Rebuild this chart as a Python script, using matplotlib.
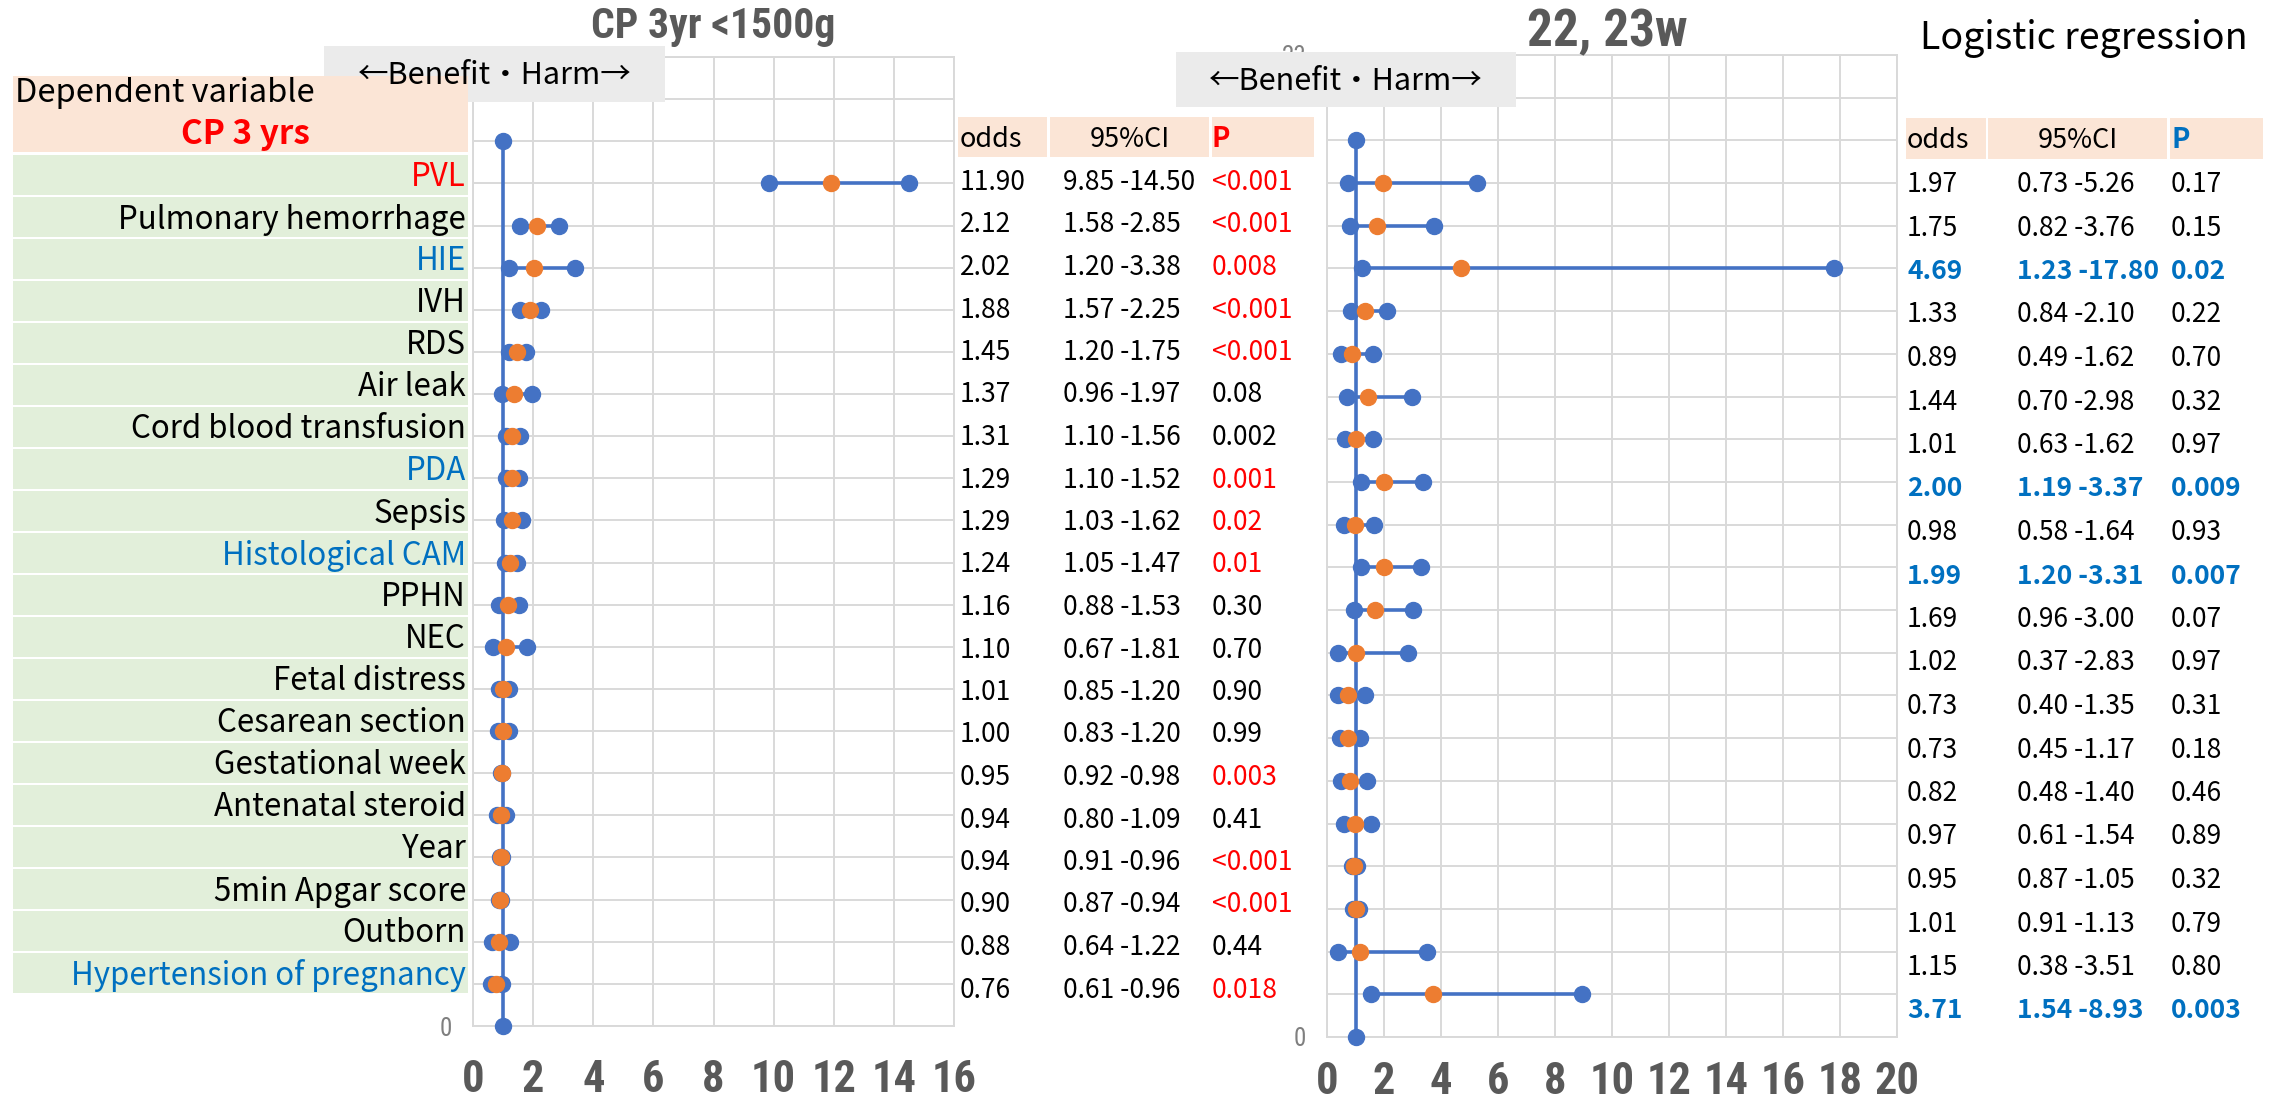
import numpy as np
import matplotlib
matplotlib.use("Agg")
import matplotlib.pyplot as plt
from matplotlib import font_manager as fm
from matplotlib.patches import Rectangle

# ---------------- data ----------------
variables = ["PVL", "Pulmonary hemorrhage", "HIE", "IVH", "RDS", "Air leak",
             "Cord blood transfusion", "PDA", "Sepsis", "Histological CAM", "PPHN",
             "NEC", "Fetal distress", "Cesarean section", "Gestational week",
             "Antenatal steroid", "Year", "5min Apgar score", "Outborn",
             "Hypertension of pregnancy"]
variable_colors = ["#ff0000", "black", "#0070c0", "black", "black", "black", "black",
                   "#0070c0", "black", "#0070c0", "black", "black", "black", "black",
                   "black", "black", "black", "black", "black", "#0070c0"]

# CP at 3 years, <1500 g
odds_vlbw = [11.90, 2.12, 2.02, 1.88, 1.45, 1.37, 1.31, 1.29, 1.29, 1.24,
             1.16, 1.10, 1.01, 1.00, 0.95, 0.94, 0.94, 0.90, 0.88, 0.76]
lo_vlbw = [9.85, 1.58, 1.20, 1.57, 1.20, 0.96, 1.10, 1.10, 1.03, 1.05,
           0.88, 0.67, 0.85, 0.83, 0.92, 0.80, 0.91, 0.87, 0.64, 0.61]
hi_vlbw = [14.50, 2.85, 3.38, 2.25, 1.75, 1.97, 1.56, 1.52, 1.62, 1.47,
           1.53, 1.81, 1.20, 1.20, 0.98, 1.09, 0.96, 0.94, 1.22, 0.96]
p_vlbw = ["<0.001", "<0.001", "0.008", "<0.001", "<0.001", "0.08", "0.002", "0.001",
          "0.02", "0.01", "0.30", "0.70", "0.90", "0.99", "0.003", "0.41", "<0.001",
          "<0.001", "0.44", "0.018"]
p_vlbw_highlight = [1, 1, 1, 1, 1, 0, 0, 1, 1, 1, 0, 0, 0, 0, 1, 0, 1, 1, 0, 1]

# 22-23 weeks
odds_2223 = [1.97, 1.75, 4.69, 1.33, 0.89, 1.44, 1.01, 2.00, 0.98, 1.99,
             1.69, 1.02, 0.73, 0.73, 0.82, 0.97, 0.95, 1.01, 1.15, 3.71]
lo_2223 = [0.73, 0.82, 1.23, 0.84, 0.49, 0.70, 0.63, 1.19, 0.58, 1.20,
           0.96, 0.37, 0.40, 0.45, 0.48, 0.61, 0.87, 0.91, 0.38, 1.54]
hi_2223 = [5.26, 3.76, 17.80, 2.10, 1.62, 2.98, 1.62, 3.37, 1.64, 3.31,
           3.00, 2.83, 1.35, 1.17, 1.40, 1.54, 1.05, 1.13, 3.51, 8.93]
p_2223 = ["0.17", "0.15", "0.02", "0.22", "0.70", "0.32", "0.97", "0.009", "0.93",
          "0.007", "0.07", "0.97", "0.31", "0.18", "0.46", "0.89", "0.32", "0.79",
          "0.80", "0.003"]
p_2223_highlight = [0, 0, 1, 0, 0, 0, 0, 1, 0, 1, 0, 0, 0, 0, 0, 0, 0, 0, 0, 1]

ref_odds = 1.0
y_top = 23
x_ticks_vlbw = list(range(0, 17, 2))
x_ticks_2223 = list(range(0, 21, 2))

# ---------------- style ----------------
W, H = 2277, 1104
BLUE = "#4472c4"
ORANGE = "#ed7d31"
GRID = "#d9d9d9"
GRAY = "#595959"
RED = "#ff0000"
TXT_BLUE = "#0070c0"
PEACH = "#fbe5d6"
GREEN = "#e2efda"
BOXGRAY = "#ebebeb"

_installed = {f.name for f in fm.fontManager.ttflist}
_narrow_choices = [("Liberation Sans Narrow", 1.0), ("Roboto Condensed", 1.0),
                   ("Roboto", 0.97), ("DejaVu Sans", 0.8)]
NARROW, NS = next((n, s) for n, s in _narrow_choices if n in _installed)
JP = ["Noto Sans CJK JP", "DejaVu Sans"]
plt.rcParams["font.family"] = JP

fig = plt.figure(figsize=(W / 100, H / 100), dpi=100)


def px_axes(x0, x1, ytop, ybot, **kw):
    return fig.add_axes([x0 / W, (H - ybot) / H, (x1 - x0) / W, (ybot - ytop) / H], **kw)


def forest(ax, odds, lo, hi, xticks, top_label, xpad):
    n = len(odds)
    rows = np.arange(n, 0, -1)
    ms = 11.5
    ax.plot([ref_odds, ref_odds], [0, n + 1], color=BLUE, lw=2.6, marker="o",
            ms=ms, mec=BLUE, zorder=3, clip_on=False)
    for y, a, b in zip(rows, lo, hi):
        ax.plot([a, b], [y, y], color=BLUE, lw=2.6, marker="o", ms=ms, mec=BLUE,
                zorder=4, clip_on=False)
    ax.plot(odds, rows, "o", color=ORANGE, mec=ORANGE, ms=ms, zorder=5, clip_on=False)
    ax.set_xlim(xticks[0], xticks[-1])
    ax.set_ylim(0, y_top)
    ax.set_xticks(xticks)
    ax.set_yticks([0, y_top])
    ax.set_yticklabels(["0", top_label])
    ax.set_yticks(np.arange(0, y_top + 1), minor=True)
    ax.grid(True, which="major", axis="x", color=GRID, lw=1.4)
    ax.grid(True, which="both", axis="y", color=GRID, lw=1.4)
    ax.set_axisbelow(True)
    for s in ax.spines.values():
        s.set_color(GRID)
        s.set_linewidth(1.4)
    ax.tick_params(axis="x", length=0, pad=xpad, labelsize=32 * NS, labelcolor=GRAY)
    ax.tick_params(axis="y", which="both", length=0, pad=15, labelsize=18,
                   labelcolor="#7f7f7f")
    for t in ax.get_xticklabels():
        t.set_fontfamily(NARROW)
        t.set_fontweight("bold")
    for t in ax.get_yticklabels():
        t.set_fontfamily(NARROW)


ax_l = px_axes(473, 954, 57, 1026)
# the top "23" label of this panel sits under the direction box
forest(ax_l, odds_vlbw, lo_vlbw, hi_vlbw, x_ticks_vlbw, "", 24)
ax_r = px_axes(1327, 1897, 55, 1037)
forest(ax_r, odds_2223, lo_2223, hi_2223, x_ticks_2223, str(y_top), 17)

# ---------------- overlay: titles, labels and tables ----------------
ov = fig.add_axes([0, 0, 1, 1], zorder=10)
ov.set_xlim(0, W)
ov.set_ylim(H, 0)
ov.axis("off")
ov.patch.set_alpha(0)

ov.text(713, 38, "CP 3yr <1500g", ha="center", va="baseline", color=GRAY,
        fontsize=30 * NS, fontweight="bold", family=NARROW)
ov.text(1607, 46, "22, 23w", ha="center", va="baseline", color=GRAY,
        fontsize=37 * NS, fontweight="bold", family=NARROW)
ov.text(2084, 49, "Logistic regression", ha="center", va="baseline", color="black",
        fontsize=27)

# direction boxes
for x0, y0, x1, y1 in [(324, 46, 665, 102), (1176, 52, 1516, 107)]:
    ov.add_patch(Rectangle((x0, y0), x1 - x0, y1 - y0, facecolor=BOXGRAY,
                           edgecolor="none"))
    ov.text((x0 + x1) / 2, (y0 + y1) / 2 + 10, "←Benefit・Harm→", ha="center",
            va="baseline", fontsize=22, color="black")

# dependent variable header
ov.add_patch(Rectangle((13, 76), 455, 76, facecolor=PEACH, edgecolor="none"))
ov.text(15, 102, "Dependent variable", ha="left", va="baseline", fontsize=23.5,
        color="black")
ov.text(310, 144, "CP 3 yrs", ha="right", va="baseline", fontsize=24,
        fontweight="bold", color=RED)

# explanatory variable cells
cell_top, cell_h = 154, 42.0
for i, (name, col) in enumerate(zip(variables, variable_colors)):
    y0 = cell_top + i * cell_h
    ov.add_patch(Rectangle((13, y0 + 1), 455, cell_h - 2, facecolor=GREEN,
                           edgecolor="none"))
    ov.text(466, y0 + cell_h / 2 + 11.5, name, ha="right", va="baseline",
            fontsize=22.5, color=col)

NUM_FS = 19


def table(x_odds, x_ci, x_p, cells, header_y, row0, row_step, odds, lo, hi, pv,
          highlight, hl_color, hl_bold, p_color):
    for (c0, c1) in cells:
        ov.add_patch(Rectangle((c0, header_y[0]), c1 - c0, header_y[1] - header_y[0],
                               facecolor=PEACH, edgecolor="none"))
    hy = (header_y[0] + header_y[1]) / 2 + 10
    ov.text(x_odds, hy, "odds", ha="left", va="baseline", fontsize=NUM_FS + 0.5)
    ov.text((cells[1][0] + cells[1][1]) / 2, hy, "95%CI", ha="center",
            va="baseline", fontsize=NUM_FS + 0.5)
    ov.text(x_p, hy, "P", ha="left", va="baseline", fontsize=NUM_FS + 1,
            fontweight="bold", color=p_color)
    for i, (o, a, b, p, h) in enumerate(zip(odds, lo, hi, pv, highlight)):
        yb = row0 + i * row_step + 10
        if hl_bold:
            kw = dict(color=hl_color if h else "black",
                      fontweight="bold" if h else "normal")
            pkw = kw
        else:
            kw = dict(color="black")
            pkw = dict(color=hl_color if h else "black")
        ov.text(x_odds, yb, f"{o:.2f}", ha="left", va="baseline", fontsize=NUM_FS, **kw)
        ov.text(x_ci, yb, f"{a:.2f} -{b:.2f}", ha="left", va="baseline",
                fontsize=NUM_FS, **kw)
        ov.text(x_p, yb, p, ha="left", va="baseline", fontsize=NUM_FS, **pkw)


table(960, 1063, 1212, [(958, 1047), (1050, 1209), (1212, 1314)], (117, 157),
      180, 42.5, odds_vlbw, lo_vlbw, hi_vlbw, p_vlbw, p_vlbw_highlight, RED, False, RED)
table(1907, 2017, 2171, [(1906, 1986), (1988, 2167), (2170, 2263)], (118, 159),
      182, 43.5, odds_2223, lo_2223, hi_2223, p_2223, p_2223_highlight, TXT_BLUE,
      True, TXT_BLUE)

fig.savefig("out.png", dpi=100)
